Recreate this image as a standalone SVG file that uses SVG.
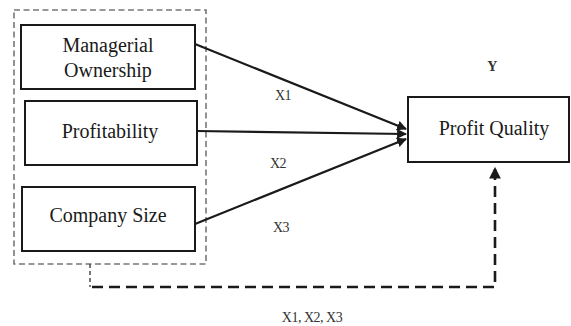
<svg xmlns="http://www.w3.org/2000/svg" width="571" height="326" viewBox="0 0 571 326">
<style>
.box{fill:#fff;stroke:#1a1a1a;stroke-width:2}
text{font-family:'Liberation Serif','DejaVu Serif',serif}
.t{font-size:20px;fill:#1a1a1a;text-anchor:middle}
.lbl{font-size:14px;fill:#333;text-anchor:middle;letter-spacing:-0.5px}
.arr{fill:none;stroke:#1a1a1a;stroke-width:2.2}
</style>
<defs>
<marker id="ah" viewBox="0 0 10 10" refX="9" refY="5" markerWidth="4.5" markerHeight="4.5" orient="auto" markerUnits="strokeWidth">
<path d="M0,0 L10,5 L0,10 Z" fill="#1a1a1a"/>
</marker>
</defs>
<rect id="group-box" x="14" y="10" width="192" height="254" fill="none" stroke="#777" stroke-width="1.6" stroke-dasharray="6,3.5"/>
<g id="managerial-ownership">
<rect class="box" x="21" y="25" width="174" height="64"/>
<text class="t" x="108" y="52" font-family="Liberation Serif, serif">Managerial</text>
<text class="t" x="108" y="77" font-family="Liberation Serif, serif">Ownership</text>
</g>
<g id="profitability">
<rect class="box" x="25" y="101" width="172" height="64"/>
<text class="t" x="110" y="138" font-family="Liberation Serif, serif">Profitability</text>
</g>
<g id="company-size">
<rect class="box" x="22" y="187" width="173" height="64"/>
<text class="t" x="108" y="222" font-family="Liberation Serif, serif">Company Size</text>
</g>
<g id="profit-quality">
<rect class="box" x="408" y="97" width="161" height="65" stroke-width="2.5"/>
<text class="t" x="494" y="135" font-family="Liberation Serif, serif">Profit Quality</text>
</g>
<g id="connectors">
<line class="arr" x1="195" y1="44" x2="406" y2="129" marker-end="url(#ah)"/>
<line class="arr" x1="197" y1="131" x2="406" y2="134" marker-end="url(#ah)"/>
<line class="arr" x1="195" y1="224" x2="406" y2="139" marker-end="url(#ah)"/>
<path d="M90,264 V287" fill="none" stroke="#555" stroke-width="1.6" stroke-dasharray="4,3"/>
<path d="M92,287 H495 V168" fill="none" stroke="#1a1a1a" stroke-width="2.6" stroke-dasharray="11,6" marker-end="url(#ah)"/>
</g>
<g id="labels">
<text class="lbl" x="283" y="100" font-family="Liberation Serif, serif">X1</text>
<text class="lbl" x="278" y="168" font-family="Liberation Serif, serif">X2</text>
<text class="lbl" x="281" y="232" font-family="Liberation Serif, serif">X3</text>
<text class="lbl" x="492" y="71" font-weight="bold" fill="#444" font-family="Liberation Serif, serif">Y</text>
<text class="lbl" x="312" y="322" font-family="Liberation Serif, serif">X1, X2, X3</text>
</g>
</svg>
